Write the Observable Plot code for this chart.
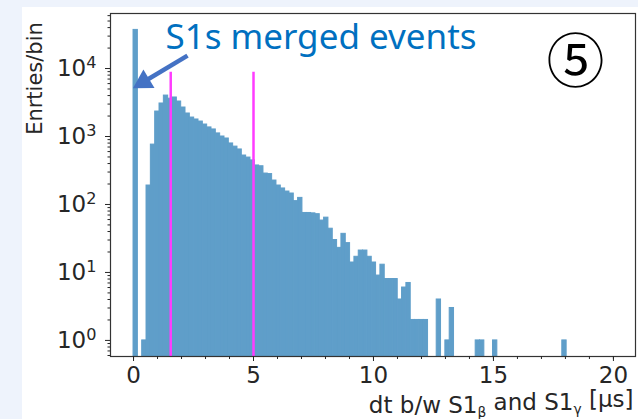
<!DOCTYPE html>
<html><head><meta charset="utf-8">
<script src="https://cdn.jsdelivr.net/npm/d3@7"></script>
<script src="https://cdn.jsdelivr.net/npm/@observablehq/plot@0.6"></script>
<style>
html,body{margin:0;padding:0;background:#eef3fc;width:638px;height:419px;overflow:hidden}
#panel{position:absolute;left:22px;top:7px;width:616px;height:412px;background:#fff}
#panel svg{overflow:visible}
</style></head><body><div id="panel"></div>
<script>
// histogram counts per bin (100 bins starting at 0 µs)
const counts = [
  37000, 0, 1, 190, 760, 2330, 3060, 4000, 3600, 3750,
  3270, 2670, 2180, 1900, 1780, 1660, 1500, 1360, 1270, 1110,
  1000, 935, 790, 710, 645, 525, 490, 445, 375, 365,
  285, 280, 225, 190, 172, 155, 145, 112, 125, 75,
  75, 74, 72, 58, 64, 44, 30, 23, 37, 27,
  14, 17, 21, 21, 17, 14, 9, 13, 8, 8,
  8, 4, 6, 7, 2, 2, 2, 2, 0, 0,
  4, 0, 1, 3, 0, 0, 0, 0, 0, 1,
  1, 0, 0, 1, 0, 0, 0, 0, 0, 0,
  0, 0, 0, 0, 0, 0, 0, 0, 0, 1
];
const binWidth = 0.1805;
const cutLines = [1.55, 5.0];
const cutTop = [8800];
const xTicks = [0, 5, 10, 15, 20];
const xMinorTicks = [0,1,2,3,4,5,6,7,8,9,10,11,12,13,14,15,16,17,18,19,20];
const yTicks = [1, 10, 100, 1000, 10000];
const yTickExponents = ["0", "1", "2", "3", "4"];
const xDomain = [-0.96, 20.92];
const yDomain = [0.58, 64500];
const yLabel = ["Enrties/bin"];
const xLabelParts = ["dt b/w S1", "β", " and S1", "γ", " [μs]"];
const annotText = ["S1s merged events"];
const annotX = [1.33];
const annotY = [28600];
const arrowFrom = [2.25, 15500];
const arrowTo = [0.17, 5620];
const badgeText = ["⑤"];
const badgeX = [18.42];
const badgeY = [11800];

const bins = counts.map((c, i) => ({x1: i * binWidth, x2: (i + 1) * binWidth, count: c})).filter(d => d.count > 0);
const yMinor = [];
for (let e = -1; e <= 4; e++) for (let m = 2; m <= 9; m++) {
  const v = m * Math.pow(10, e);
  if (v >= yDomain[0] && v <= yDomain[1]) yMinor.push(v);
}

const chart = Plot.plot({
  width: 616, height: 412,
  marginLeft: 88, marginTop: 6, marginRight: 3, marginBottom: 63,
  style: {fontFamily: "DejaVu Sans", fontSize: "23px", color: "#262626", background: "transparent"},
  x: {domain: xDomain, axis: null},
  y: {type: "log", domain: yDomain, axis: null},
  marks: [
    Plot.rect(bins, {x1: "x1", x2: "x2", y1: yDomain[0], y2: "count", fill: "#5f9ec9", stroke: "#5f9ec9", strokeWidth: 1}),
    Plot.ruleX(cutLines, {y1: yDomain[0], y2: cutTop[0], stroke: "#ff3cff", strokeWidth: 2.5}),
    Plot.frame({stroke: "#333", strokeWidth: 1.2}),
    Plot.axisX({ticks: xTicks, tickSize: 5, tickPadding: 5, label: null, fontSize: 23, tickFormat: d => String(d)}),
    Plot.axisX({ticks: xMinorTicks, tickSize: 3, text: null, label: null}),
    Plot.axisY({ticks: yTicks, tickSize: 5, tickPadding: 9, label: null, fontSize: 23,
      tickFormat: d => "10^" + yTickExponents[yTicks.indexOf(d)]}),
    Plot.axisY({ticks: yMinor, tickSize: 2.5, text: null, label: null}),
    Plot.text(yLabel, {frameAnchor: "top-left", dx: -75, dy: 65, rotate: -90, textAnchor: "middle", lineAnchor: "middle", fontSize: 21, fill: "#262626"}),
    Plot.text([xLabelParts.join("")], {frameAnchor: "bottom-right", dx: -2, dy: 49, textAnchor: "end", lineAnchor: "middle", fontSize: 23, fill: "#262626"}),
    Plot.link([0], {x1: () => arrowFrom[0], y1: () => arrowFrom[1], x2: () => arrowTo[0], y2: () => arrowTo[1], stroke: "#4472c4", strokeWidth: 4.5}),
    Plot.dot([0], {x: () => arrowTo[0], y: () => arrowTo[1], symbol: "triangle", r: 8, rotate: 239, dx: 6, dy: -3.6, fill: "#4472c4", stroke: "none"}),
    Plot.text(annotText, {x: annotX, y: annotY, textAnchor: "start", fontSize: 35, fill: "#0070c0", fontFamily: "Noto Sans"}),
    Plot.text(badgeText, {x: badgeX, y: badgeY, fontSize: 58, fill: "#000", fontFamily: "Noto Sans CJK JP"})
  ]
});

// matplotlib-style mathtext: superscript exponents and subscripts as tspans
d3.select(chart).selectAll("text").each(function () {
  const t = d3.select(this);
  const s = this.textContent;
  if (/^10\^\d$/.test(s)) {
    const exp = s.slice(3);
    t.text(null);
    t.append("tspan").text("10");
    t.append("tspan").attr("dy", "-0.5em").attr("font-size", "70%").text(exp);
  } else if (s === xLabelParts.join("")) {
    t.text(null);
    t.append("tspan").text(xLabelParts[0]);
    t.append("tspan").attr("dy", "0.3em").attr("font-size", "60%").text(xLabelParts[1]);
    t.append("tspan").attr("dy", "-0.3em").text(xLabelParts[2]);
    t.append("tspan").attr("dy", "0.3em").attr("font-size", "60%").text(xLabelParts[3]);
    t.append("tspan").attr("dy", "-0.3em").text(xLabelParts[4]);
  }
});
document.getElementById("panel").appendChild(chart);
</script></body></html>
